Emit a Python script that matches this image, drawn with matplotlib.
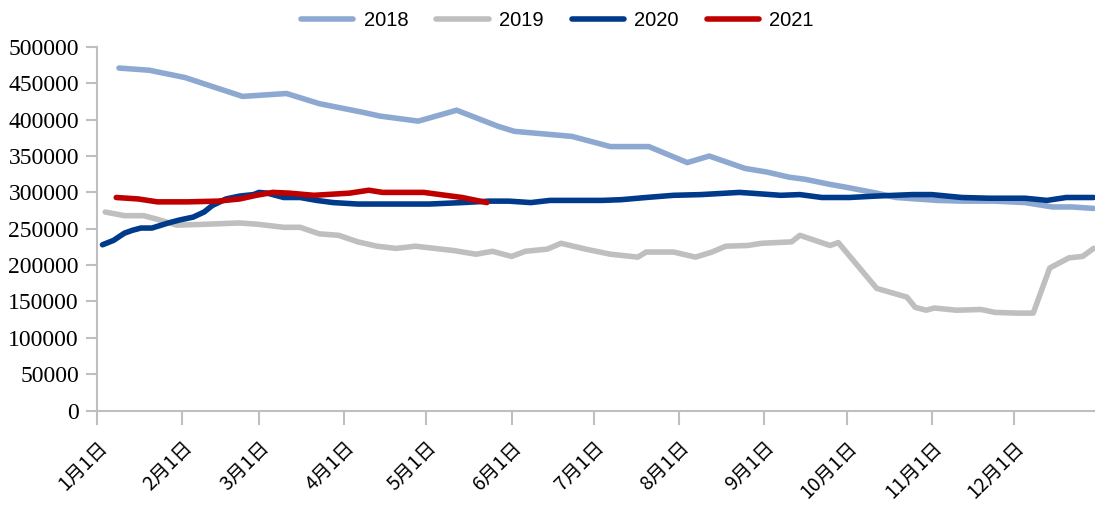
import matplotlib
matplotlib.use('Agg')
import matplotlib.pyplot as plt

plt.rcParams['font.family'] = ['Noto Sans CJK SC', 'DejaVu Sans']

# day of year (0 = Jan 1) and values
day_2018 = [8, 19, 32, 53, 69, 81, 97, 103, 117, 131, 146, 152, 173, 187, 201, 215,
            223, 236, 244, 252, 258, 267, 273, 284, 291, 306, 315, 327, 338, 348, 355, 363]
val_2018 = [471000, 468000, 458000, 432000, 436000, 422000, 410000, 405000, 398000,
            413000, 391000, 384000, 377000, 363000, 363000, 341000, 350000, 333000,
            328000, 321000, 318000, 311000, 307000, 299000, 293000, 289000, 288000,
            288000, 286000, 280000, 280000, 278000]

day_2019 = [3, 10, 17, 22, 29, 38, 52, 59, 68, 74, 81, 88, 95, 102, 109, 116, 130, 138,
            144, 151, 156, 164, 169, 178, 187, 197, 200, 210, 218, 224, 229, 237, 242,
            253, 256, 267, 270, 284, 295, 298, 302, 305, 313, 322, 327, 335, 341, 347,
            354, 359, 363]
val_2019 = [273000, 268000, 268000, 263000, 255000, 256000, 258000, 256000, 252000,
            252000, 243000, 241000, 232000, 226000, 223000, 226000, 220000, 215000,
            219000, 212000, 219000, 222000, 230000, 222000, 215000, 211000, 218000,
            218000, 211000, 218000, 226000, 227000, 230000, 232000, 241000, 227000,
            231000, 168000, 156000, 142000, 138000, 141000, 138000, 139000, 135000,
            134000, 134000, 196000, 210000, 212000, 223000]

day_2020 = [2, 6, 10, 13, 16, 20, 26, 30, 35, 39, 42, 47, 52, 57, 59, 62, 68, 74, 80,
            86, 95, 103, 110, 121, 133, 143, 150, 158, 165, 184, 191, 200, 210, 220,
            234, 238, 249, 256, 264, 274, 284, 297, 304, 315, 325, 338, 346, 353, 363]
val_2020 = [228000, 234000, 244000, 248000, 251000, 251000, 258000, 262000, 266000,
            273000, 282000, 291000, 295000, 297000, 300000, 299000, 293000, 293000,
            289000, 286000, 284000, 284000, 284000, 284000, 286000, 288000, 288000,
            286000, 289000, 289000, 290000, 293000, 296000, 297000, 300000, 299000,
            296000, 297000, 293000, 293000, 295000, 297000, 297000, 293000, 292000,
            292000, 289000, 293000, 293000]

day_2021 = [7, 15, 22, 33, 44, 52, 58, 64, 70, 79, 92, 99, 104, 110, 119, 125, 133, 142]
val_2021 = [293000, 291000, 287000, 287000, 288000, 291000, 296000, 300000, 299000,
            296000, 299000, 303000, 300000, 300000, 300000, 297000, 293000, 286000]

month_days = [0, 31, 59, 90, 120, 151, 181, 212, 243, 273, 304, 334]
month_labels = ['1月1日', '2月1日', '3月1日', '4月1日', '5月1日', '6月1日',
                '7月1日', '8月1日', '9月1日', '10月1日', '11月1日', '12月1日']

fig = plt.figure(figsize=(10.95, 5.05), dpi=100)
ax = fig.add_axes([0.0886, 0.187, 0.9114, 0.72])

lw = 4.0
ax.plot(day_2018, val_2018, color='#8EA9D1', lw=lw, label='2018', solid_capstyle='round')
ax.plot(day_2019, val_2019, color='#BFBFBF', lw=lw, label='2019', solid_capstyle='round')
ax.plot(day_2020, val_2020, color='#003A8A', lw=lw, label='2020', solid_capstyle='round')
ax.plot(day_2021, val_2021, color='#C00000', lw=lw, label='2021', solid_capstyle='round')

for s in ['top', 'right']:
    ax.spines[s].set_visible(False)
for s in ['left', 'bottom']:
    ax.spines[s].set_color('#BFBFBF')
    ax.spines[s].set_linewidth(1.5)
ax.tick_params(axis='y', length=8, width=1.5, color='#BFBFBF', pad=5)
ax.tick_params(axis='x', length=10, width=1.5, color='#BFBFBF', pad=9)

ax.set_xlim(0, 363.5)
ax.set_ylim(0, 500000)
ax.set_yticks(range(0, 500001, 50000))
ax.set_yticklabels([str(v) for v in range(0, 500001, 50000)])
ax.set_xticks(month_days)
ax.set_xticklabels(month_labels, rotation=45, ha='right', va='top',
                   rotation_mode='anchor')
for t in ax.get_yticklabels():
    t.set_fontfamily('Liberation Serif')
    t.set_fontsize(17)
for t in ax.get_xticklabels():
    t.set_fontsize(14)

fig.legend(loc='center', bbox_to_anchor=(0.509, 0.96), ncol=4, frameon=False,
           prop={'family': 'Liberation Sans', 'size': 14.5}, handlelength=2.6,
           handletextpad=0.5, columnspacing=1.4)

fig.savefig('out.png', dpi=100)
